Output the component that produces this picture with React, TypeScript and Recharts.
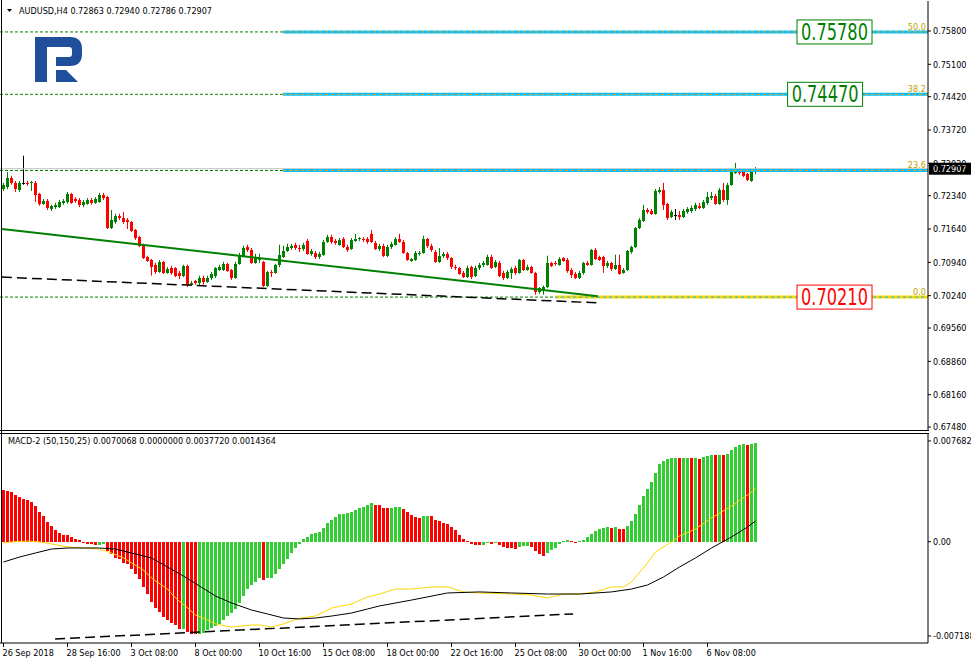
import React from "react";
import { ComposedChart, Bar, Line, XAxis, YAxis, ReferenceLine, ReferenceDot } from "recharts";

const FONT = "'DejaVu Sans Condensed', 'DejaVu Sans', sans-serif";

// AUDUSD H4 candles, 26 Sep 2018 .. 8 Nov 2018
const opens = [
  0.7248, 0.7252, 0.7271, 0.7261, 0.7246, 0.7261, 0.7261, 0.7261, 0.7261, 0.7238,
  0.7217, 0.7223, 0.7206, 0.721, 0.721, 0.7219, 0.7221, 0.7238, 0.7227, 0.7225,
  0.7215, 0.7217, 0.7225, 0.7219, 0.7221, 0.7236, 0.7231, 0.7166, 0.7179, 0.7192,
  0.7187, 0.7183, 0.7179, 0.7162, 0.7147, 0.7131, 0.7105, 0.7099, 0.7089, 0.7074,
  0.7095, 0.7072, 0.7082, 0.7082, 0.7072, 0.7066, 0.7087, 0.7047, 0.7055, 0.7051,
  0.7061, 0.7053, 0.7061, 0.7066, 0.7078, 0.7078, 0.7091, 0.7078, 0.7061, 0.7091,
  0.7108, 0.7126, 0.712, 0.7093, 0.7099, 0.7095, 0.7045, 0.7074, 0.7072, 0.7089,
  0.7105, 0.7118, 0.7124, 0.7131, 0.7124, 0.7122, 0.7139, 0.7112, 0.7114, 0.7105,
  0.711, 0.7137, 0.7147, 0.7139, 0.7131, 0.7143, 0.7126, 0.7122, 0.7139, 0.7143,
  0.7143, 0.7143, 0.7154, 0.7135, 0.7122, 0.7129, 0.7108, 0.7126, 0.7131, 0.7143,
  0.7137, 0.7114, 0.7097, 0.7099, 0.7112, 0.7114, 0.7143, 0.7129, 0.7116, 0.7095,
  0.7108, 0.7112, 0.7103, 0.7084, 0.7082, 0.7072, 0.7063, 0.7084, 0.7066, 0.7082,
  0.7089, 0.7089, 0.7105, 0.7084, 0.7093, 0.7072, 0.7061, 0.7072, 0.7082, 0.7072,
  0.7099, 0.7078, 0.7084, 0.7072, 0.7032, 0.7036, 0.7042, 0.7093, 0.7093, 0.7089,
  0.7103, 0.7099, 0.7078, 0.707, 0.7061, 0.7072, 0.7093, 0.7089, 0.712, 0.7105,
  0.7105, 0.7087, 0.7093, 0.708, 0.7089, 0.7072, 0.7078, 0.7116, 0.7126, 0.7166,
  0.7181, 0.7204, 0.7202, 0.7196, 0.7242, 0.7246, 0.7217, 0.7189, 0.7194, 0.7194,
  0.7189, 0.72, 0.7202, 0.7206, 0.7213, 0.7208, 0.7219, 0.7229, 0.7234, 0.7217,
  0.7246, 0.7225, 0.7257, 0.7282, 0.7288, 0.7286, 0.728, 0.7265, 0.72863,
];
const closes = [
  0.7257, 0.7271, 0.7261, 0.7248, 0.7261, 0.7261, 0.7259, 0.7263, 0.7236, 0.7217,
  0.7223, 0.7208, 0.7213, 0.7215, 0.7221, 0.7223, 0.7238, 0.7219, 0.7223, 0.7215,
  0.7221, 0.7225, 0.7219, 0.7227, 0.7236, 0.7229, 0.7166, 0.7183, 0.7192, 0.7187,
  0.7179, 0.7179, 0.716, 0.7145, 0.7129, 0.7103, 0.7097, 0.7084, 0.7074, 0.7095,
  0.7072, 0.708, 0.7072, 0.7066, 0.7066, 0.7087, 0.7047, 0.7051, 0.7051, 0.7061,
  0.7053, 0.7061, 0.707, 0.7082, 0.7084, 0.7091, 0.7076, 0.7061, 0.7091, 0.711,
  0.7124, 0.712, 0.7093, 0.7105, 0.7103, 0.7045, 0.7074, 0.7072, 0.7089, 0.711,
  0.7118, 0.7126, 0.7129, 0.7124, 0.7122, 0.7131, 0.7112, 0.7118, 0.7105, 0.7112,
  0.7137, 0.7147, 0.7137, 0.7135, 0.7141, 0.7126, 0.712, 0.7141, 0.7143, 0.7145,
  0.7141, 0.7137, 0.7137, 0.7122, 0.7129, 0.7108, 0.7126, 0.7133, 0.7143, 0.7137,
  0.7114, 0.7099, 0.7101, 0.7114, 0.7114, 0.7143, 0.7129, 0.712, 0.7095, 0.7108,
  0.7112, 0.7103, 0.7084, 0.7082, 0.707, 0.7063, 0.7082, 0.7063, 0.7082, 0.7089,
  0.7093, 0.7105, 0.7082, 0.7095, 0.7066, 0.7061, 0.7074, 0.708, 0.7072, 0.7099,
  0.7078, 0.7084, 0.7072, 0.7032, 0.704, 0.7042, 0.7093, 0.7087, 0.7091, 0.7101,
  0.7097, 0.7076, 0.7068, 0.7061, 0.7072, 0.7093, 0.7089, 0.712, 0.7101, 0.7099,
  0.7087, 0.7093, 0.708, 0.7089, 0.707, 0.7078, 0.7118, 0.7126, 0.7166, 0.7183,
  0.7204, 0.72, 0.7196, 0.7244, 0.7246, 0.7215, 0.7187, 0.72, 0.7194, 0.7189,
  0.7202, 0.7206, 0.7208, 0.7215, 0.7208, 0.7221, 0.7231, 0.7234, 0.7217, 0.7246,
  0.7225, 0.7257, 0.7286, 0.729, 0.7282, 0.7276, 0.7267, 0.7288, 0.72907,
];
const highs = [
  0.7261, 0.7284, 0.7276, 0.7265, 0.7265, 0.7318, 0.7265, 0.7265, 0.7265, 0.724,
  0.7227, 0.7227, 0.7215, 0.7219, 0.7225, 0.7227, 0.7242, 0.724, 0.7231, 0.7229,
  0.7225, 0.7229, 0.7229, 0.7231, 0.724, 0.724, 0.7234, 0.7204, 0.7196, 0.7196,
  0.72, 0.7187, 0.7181, 0.7164, 0.715, 0.7133, 0.7108, 0.7101, 0.7093, 0.7099,
  0.7097, 0.7084, 0.7087, 0.7084, 0.7076, 0.7089, 0.7089, 0.7055, 0.7057, 0.7066,
  0.7066, 0.7066, 0.7074, 0.7084, 0.7089, 0.7095, 0.7093, 0.708, 0.7095, 0.7114,
  0.7129, 0.7131, 0.7124, 0.7112, 0.7112, 0.7097, 0.7076, 0.7078, 0.7091, 0.7131,
  0.7129, 0.7133, 0.7133, 0.7135, 0.7131, 0.7135, 0.7143, 0.7122, 0.7118, 0.7116,
  0.7141, 0.7152, 0.7152, 0.7143, 0.7145, 0.7147, 0.7131, 0.7145, 0.7154, 0.7147,
  0.7147, 0.7147, 0.7162, 0.7139, 0.7133, 0.7133, 0.7131, 0.7137, 0.7147, 0.7154,
  0.7141, 0.7116, 0.7103, 0.7118, 0.7118, 0.715, 0.7145, 0.7133, 0.712, 0.7124,
  0.7116, 0.7116, 0.7105, 0.7089, 0.7084, 0.7076, 0.7087, 0.7087, 0.7087, 0.7093,
  0.7097, 0.711, 0.711, 0.7099, 0.7097, 0.7076, 0.7078, 0.7084, 0.7087, 0.7101,
  0.7101, 0.7089, 0.7087, 0.7074, 0.7042, 0.7045, 0.7108, 0.7095, 0.7097, 0.7105,
  0.7105, 0.7103, 0.7082, 0.7074, 0.7076, 0.7095, 0.7097, 0.7122, 0.7124, 0.7108,
  0.7108, 0.7097, 0.7095, 0.711, 0.711, 0.7082, 0.712, 0.7129, 0.7168, 0.7187,
  0.7215, 0.7208, 0.7206, 0.7248, 0.7252, 0.7261, 0.7219, 0.7204, 0.7206, 0.7202,
  0.7206, 0.721, 0.7213, 0.7219, 0.7219, 0.7225, 0.7242, 0.7242, 0.7238, 0.725,
  0.7261, 0.7261, 0.7288, 0.7303, 0.7292, 0.729, 0.7282, 0.729, 0.7294,
];
const lows = [
  0.7244, 0.7248, 0.7257, 0.7242, 0.7242, 0.7257, 0.7255, 0.7244, 0.7221, 0.7213,
  0.7215, 0.7204, 0.7202, 0.7206, 0.7208, 0.7215, 0.7217, 0.7217, 0.7219, 0.721,
  0.721, 0.7215, 0.7215, 0.7217, 0.7219, 0.7225, 0.7164, 0.7164, 0.7175, 0.7183,
  0.7175, 0.7164, 0.7158, 0.7141, 0.7126, 0.7101, 0.7095, 0.7066, 0.707, 0.7072,
  0.707, 0.707, 0.7068, 0.7063, 0.7059, 0.7063, 0.7042, 0.7045, 0.7047, 0.7045,
  0.7047, 0.7051, 0.7057, 0.7061, 0.7076, 0.7076, 0.7074, 0.7057, 0.7059, 0.7089,
  0.7105, 0.7116, 0.7091, 0.7091, 0.7093, 0.7042, 0.7042, 0.7063, 0.707, 0.7084,
  0.7103, 0.7116, 0.712, 0.712, 0.7116, 0.7118, 0.711, 0.7108, 0.7101, 0.7101,
  0.7108, 0.7135, 0.7133, 0.7131, 0.7129, 0.7124, 0.7116, 0.712, 0.7137, 0.7139,
  0.7137, 0.7133, 0.7135, 0.712, 0.7118, 0.7105, 0.7105, 0.7122, 0.7129, 0.7135,
  0.7112, 0.7097, 0.7095, 0.7097, 0.7108, 0.7112, 0.7124, 0.7116, 0.7093, 0.7093,
  0.7103, 0.7099, 0.708, 0.7078, 0.7068, 0.7061, 0.7061, 0.7059, 0.7063, 0.7078,
  0.7084, 0.7087, 0.708, 0.7082, 0.7063, 0.7057, 0.7059, 0.7059, 0.7068, 0.707,
  0.7076, 0.7076, 0.707, 0.7026, 0.7028, 0.7026, 0.704, 0.7084, 0.7087, 0.7087,
  0.7095, 0.7072, 0.7061, 0.7059, 0.7059, 0.7068, 0.7087, 0.7087, 0.7099, 0.7097,
  0.7072, 0.7082, 0.7076, 0.7078, 0.7068, 0.707, 0.7076, 0.7112, 0.7124, 0.7164,
  0.7179, 0.7196, 0.7194, 0.7194, 0.7238, 0.7204, 0.7183, 0.7187, 0.7183, 0.7183,
  0.7187, 0.7196, 0.7198, 0.7202, 0.7206, 0.7206, 0.7215, 0.7225, 0.7215, 0.7215,
  0.7221, 0.7215, 0.7255, 0.728, 0.7278, 0.7273, 0.7265, 0.7263, 0.7279,
];

const priceTicks = [0.758, 0.751, 0.7442, 0.7372, 0.7302, 0.7234, 0.7164, 0.7094, 0.7024, 0.6956, 0.6886, 0.6816, 0.6748];
const lastPrice = 0.72907;

// fibo levels and the price tags drawn on the chart
const fibNames = ["0.0", "23.6", "38.2", "50.0"];
const fibPrices = [0.7021, 0.7287, 0.7447, 0.7578];
const tagTexts = ["0.75780", "0.74470", "0.70210"];
const tagPrices = [0.7578, 0.7447, 0.7021];

// hand drawn trend lines (bar index, price)
const greenTrend = [{ x: -0.4, y: 0.7164 }, { x: 148.6, y: 0.7023 }];
const dashTrend = [{ x: -0.4, y: 0.7063 }, { x: 148.4, y: 0.7009 }];

// MACD-2 (50,150,25)
const hist = [
  0.003966, 0.003889, 0.003813, 0.003584, 0.003432, 0.003279, 0.003203, 0.00305, 0.002745, 0.002288,
  0.001983, 0.001525, 0.00122, 0.000915, 0.000686, 0.000534, 0.00052, 0.000381, 0.000229, 0.000153,
  -0.00008, -0.00015, -0.0002, -0.00023, -0.00022, -0.00021, -0.000687, -0.000915, -0.00122, -0.001296,
  -0.001601, -0.001678, -0.002059, -0.00244, -0.002822, -0.003432, -0.003966, -0.004576, -0.005033, -0.005338,
  -0.00572, -0.005948, -0.006177, -0.00633, -0.006635, -0.00663, -0.006863, -0.007016, -0.00703, -0.00702,
  -0.00694, -0.006711, -0.006558, -0.006406, -0.006253, -0.005948, -0.005643, -0.005414, -0.005109, -0.004652,
  -0.004118, -0.003584, -0.003279, -0.00305, -0.002745, -0.002898, -0.00275, -0.00274, -0.00244, -0.002059,
  -0.001678, -0.001296, -0.000839, -0.000458, -0.000153, 0.000229, 0.000381, 0.00061, 0.000686, 0.000763,
  0.001068, 0.001449, 0.001678, 0.001907, 0.002135, 0.00214, 0.002212, 0.002288, 0.00244, 0.002593,
  0.002669, 0.002822, 0.002974, 0.002822, 0.00279, 0.002593, 0.00259, 0.002595, 0.002669, 0.002672,
  0.002517, 0.002288, 0.002059, 0.001907, 0.00183, 0.001983, 0.00199, 0.001985, 0.001678, 0.001601,
  0.001449, 0.001373, 0.001144, 0.000915, 0.000534, 0.000229, 0.000076, -0.000153, -0.000229, -0.00024,
  -0.00023, -0.000076, -0.000153, -0.00008, -0.000229, -0.000381, -0.000458, -0.000465, -0.000534, -0.000381,
  -0.000305, -0.0003, -0.000381, -0.000686, -0.000915, -0.001068, -0.000839, -0.00061, -0.000458, -0.000153,
  0.000076, 0.000153, 0.000076, -0.000076, 0.000076, 0.000153, 0.000381, 0.00061, 0.000839, 0.000991,
  0.001068, 0.001144, 0.001068, 0.001144, 0.000991, 0.000985, 0.00122, 0.001601, 0.002135, 0.002822,
  0.003508, 0.004042, 0.004576, 0.005262, 0.005948, 0.006177, 0.00633, 0.006406, 0.00641, 0.0064,
  0.006405, 0.00641, 0.006402, 0.006412, 0.00633, 0.006482, 0.006558, 0.006635, 0.00662, 0.00663,
  0.006625, 0.006711, 0.007016, 0.007245, 0.007397, 0.007474, 0.007397, 0.007474, 0.00755,
];
const blackAt = [0, 4, 8, 12, 16, 20, 24, 28, 32, 37, 41, 45, 49, 53, 57, 62, 66, 70, 74, 78, 82, 87, 91, 94, 102, 111, 119, 127, 136, 144, 152, 157, 161, 165, 169, 173, 177, 182, 186, 188];
const black = [
  -0.00155, -0.00117, -0.00086, -0.00056, -0.00048, -0.00048, -0.00048, -0.00056, -0.00086, -0.00124,
  -0.00193, -0.00262, -0.00338, -0.00414, -0.00467, -0.00521, -0.00551, -0.00582, -0.00589, -0.00582,
  -0.00567, -0.00544, -0.00513, -0.0049, -0.00445, -0.00391, -0.00383, -0.00391, -0.00399, -0.00399,
  -0.00383, -0.00361, -0.0033, -0.00269, -0.00193, -0.00124, -0.00048, 0.00036, 0.00112, 0.00158,
];
const yellowAt = [0, 2, 6, 9, 12, 16, 20, 24, 27, 30, 32, 35, 37, 41, 43, 46, 48, 51, 53, 57, 62, 64, 67, 70, 74, 78, 82, 87, 91, 94, 98, 102, 107, 111, 115, 119, 127, 132, 136, 140, 144, 148, 152, 155, 157, 161, 163, 167, 169, 173, 177, 182, 186, 188];
const yellow = [
  -0.0001, -0.00002, 0.00005, -0.00002, -0.00017, -0.0004, -0.00048, -0.00056, -0.00086, -0.00124,
  -0.00162, -0.00216, -0.00277, -0.00361, -0.00429, -0.00505, -0.00559, -0.00597, -0.00627, -0.00651,
  -0.00635, -0.00635, -0.00651, -0.00627, -0.00582, -0.00567, -0.00506, -0.00475, -0.00422, -0.00399,
  -0.00361, -0.00361, -0.00345, -0.00345, -0.00383, -0.00391, -0.00399, -0.00406, -0.00429, -0.00399,
  -0.00399, -0.00383, -0.00345, -0.00345, -0.00307, -0.00162, -0.00078, -0.00002, 0.00043, 0.00097,
  0.00181, 0.00272, 0.00356, 0.00402,
];
const macdTicks = [0.0076828, 0, -0.0071885];
const macdTrend = [{ x: 12.9, y: -0.00742 }, { x: 142.4, y: -0.00551 }];

const dateTickAt = [0, 16, 32, 48, 64, 80, 96, 112, 128, 144, 160, 176];
const dateLabels = [
  "26 Sep 2018", "28 Sep 16:00", "3 Oct 08:00", "8 Oct 00:00", "10 Oct 16:00", "15 Oct 08:00",
  "18 Oct 00:00", "22 Oct 16:00", "25 Oct 08:00", "30 Oct 00:00", "1 Nov 16:00", "6 Nov 08:00",
];

const X_DOMAIN: [number, number] = [-0.875, 231.125];

const candleRows = opens.map((o, i) => ({
  i,
  o,
  c: closes[i],
  h: highs[i],
  l: lows[i],
  range: [lows[i], highs[i]],
}));

const macdRows = hist.map((v, i) => {
  const bi = blackAt.indexOf(i);
  const yi = yellowAt.indexOf(i);
  return {
    i,
    hist: v,
    black: bi >= 0 ? black[bi] : null,
    yellow: yi >= 0 ? yellow[yi] : null,
  };
});

const Candle = (props: any) => {
  const { x, y, width, height, payload } = props;
  if (!payload || height == null || isNaN(y)) return null;
  const { o, c, h, l } = payload;
  const cx = Math.floor(x + width / 2);
  const k = h > l ? height / (h - l) : 0;
  const yo = y + (h - o) * k;
  const yc = y + (h - c) * k;
  const top = Math.round(Math.min(yo, yc));
  const bot = Math.round(Math.max(yo, yc));
  const color = c > o ? "#008000" : c < o ? "#ff0000" : "#000000";
  return (
    <g>
      <line x1={cx + 0.5} x2={cx + 0.5} y1={y} y2={y + height} stroke={color} strokeWidth={1} />
      <rect x={cx - 1} y={top} width={3} height={Math.max(1, bot - top)} fill={color} />
    </g>
  );
};

const HistBar = (props: any) => {
  const { x, y, width, height, payload } = props;
  if (!payload || height == null) return null;
  const i = payload.i;
  const up = i > 0 && hist[i] >= hist[i - 1];
  const cx = Math.floor(x + width / 2);
  const a = Math.round(Math.min(y, y + height));
  const b = Math.round(Math.max(y, y + height));
  return <rect x={cx - 1} y={a} width={3} height={Math.max(1, b - a)} fill={up ? "#32cd32" : "#ff0000"} />;
};

const Tag = ({ cx, cy, text, color }: any) => (
  <g>
    <rect x={cx - 37.5} y={cy - 12} width={75} height={24} fill="#ffffff" stroke={color} strokeWidth={1} />
    <text
      x={cx}
      y={cy}
      textAnchor="middle"
      dominantBaseline="central"
      fontSize={18}
      fontFamily={FONT}
      fill={color}
      transform={`translate(0 ${cy}) scale(1 1.3) translate(0 ${-cy})`}
    >
      {text}
    </text>
  </g>
);

const DateTick = (props: any) => {
  const { x, y, payload } = props;
  const k = dateTickAt.indexOf(payload.value);
  return (
    <text x={x - 1} y={y + 8} fontSize={9} fontFamily={FONT} fill="#000" textAnchor="start">
      {dateLabels[k]}
    </text>
  );
};

export default function App() {
  const tagColors = ["#008000", "#008000", "#ff0000"];
  const tagAt = [207.75, 205.4, 207.75];
  const fibFrom = [137.9, 69.9, 69.9, 69.9];
  return (
    <div style={{ position: "relative", width: 971, height: 664, background: "#fff", overflow: "hidden" }}>
      <style>{`body{margin:0}`}</style>
      <div style={{ position: "absolute", left: 0, top: 0 }}>
        <ComposedChart width={971} height={431} data={candleRows} margin={{ top: 1, right: 0, bottom: 1, left: 0 }}>
          <XAxis type="number" dataKey="i" domain={X_DOMAIN} hide allowDataOverflow />
          <YAxis
            orientation="right"
            type="number"
            domain={[0.67418, 0.7643]}
            ticks={priceTicks}
            interval={0}
            width={43}
            allowDataOverflow
            tickSize={3}
            tickMargin={2}
            axisLine={{ stroke: "#000" }}
            tickLine={{ stroke: "#000" }}
            tick={{ fontSize: 9, fontFamily: FONT, fill: "#000" }}
            tickFormatter={(v: number) => v.toFixed(5)}
          />
          {fibPrices.map((p, k) => (
            <ReferenceLine key={`g${k}`} y={p} stroke="#008000" strokeDasharray="3 2" />
          ))}
          <ReferenceLine y={lastPrice} stroke="#c0c0c0" />
          {fibPrices.map((p, k) => (
            <ReferenceLine
              key={`c${k}`}
              segment={[{ x: fibFrom[k], y: p }, { x: X_DOMAIN[1], y: p }]}
              stroke={k === 0 ? "#ffd700" : "#00bfff"}
              strokeWidth={3}
            />
          ))}
          {fibPrices.map((p, k) => (
            <ReferenceLine
              key={`d${k}`}
              segment={[{ x: fibFrom[k], y: p }, { x: X_DOMAIN[1], y: p }]}
              stroke={k === 0 ? "#00bfff" : "#ffa500"}
              strokeDasharray="3 3"
            />
          ))}
          <ReferenceLine segment={greenTrend} stroke="#008000" strokeWidth={2} />
          <ReferenceLine segment={dashTrend} stroke="#000" strokeWidth={1.5} strokeDasharray="10 5" />
          <Bar dataKey="range" barSize={3} shape={Candle} isAnimationActive={false} />
          {fibPrices.map((p, k) => (
            <ReferenceDot
              key={`t${k}`}
              x={230.6}
              y={p}
              r={0}
              shape={(sp: any) => (
                <text x={sp.cx} y={sp.cy - 2} textAnchor="end" fontSize={9} fontFamily={FONT} fill="#c0a000">
                  {fibNames[k]}
                </text>
              )}
            />
          ))}
          {tagPrices.map((p, k) => (
            <ReferenceDot
              key={`p${k}`}
              x={tagAt[k]}
              y={p}
              r={0}
              shape={(sp: any) => <Tag cx={sp.cx} cy={sp.cy} text={tagTexts[k]} color={tagColors[k]} />}
            />
          ))}
          <ReferenceDot
            x={X_DOMAIN[1]}
            y={lastPrice}
            r={0}
            shape={(sp: any) => (
              <g>
                <rect x={sp.cx + 1} y={sp.cy - 6} width={43} height={12} fill="#000" />
                <text x={sp.cx + 5} y={sp.cy + 3.5} fontSize={9} fontFamily={FONT} fill="#fff">
                  {lastPrice.toFixed(5)}
                </text>
              </g>
            )}
          />
        </ComposedChart>
      </div>
      <div style={{ position: "absolute", left: 0, top: 432 }}>
        <ComposedChart width={971} height={231} data={macdRows} margin={{ top: 2, right: 0, bottom: 0, left: 0 }}>
          <XAxis
            type="number"
            dataKey="i"
            domain={X_DOMAIN}
            allowDataOverflow
            ticks={dateTickAt}
            interval={0}
            height={20}
            tickSize={4}
            tickMargin={1}
            axisLine={{ stroke: "#000" }}
            tickLine={{ stroke: "#000" }}
            tick={<DateTick />}
          />
          <YAxis
            orientation="right"
            type="number"
            domain={[-0.007725, 0.008213]}
            ticks={macdTicks}
            interval={0}
            width={43}
            allowDataOverflow
            tickSize={3}
            tickMargin={2}
            axisLine={{ stroke: "#000" }}
            tickLine={{ stroke: "#000" }}
            tick={{ fontSize: 9, fontFamily: FONT, fill: "#000" }}
            tickFormatter={(v: number) => (v === 0 ? "0.00" : v.toFixed(7))}
          />
          <Bar dataKey="hist" barSize={3} shape={HistBar} isAnimationActive={false} />
          <Line dataKey="yellow" type="linear" stroke="#ffd700" strokeWidth={1} dot={false} connectNulls isAnimationActive={false} />
          <Line dataKey="black" type="linear" stroke="#000" strokeWidth={1} dot={false} connectNulls isAnimationActive={false} />
          <ReferenceLine segment={macdTrend} stroke="#000" strokeWidth={1.5} strokeDasharray="10 5" />
        </ComposedChart>
      </div>
      <svg width={971} height={664} style={{ position: "absolute", left: 0, top: 0, pointerEvents: "none" }}>
        <rect x={1} y={0} width={1} height={643} fill="#000" />
        <rect x={0} y={430} width={929} height={1} fill="#000" />
        <rect x={0} y={433} width={929} height={1} fill="#000" />
        <polygon points="7,9 12,9 9.5,12" fill="#000" />
        <text x={19} y={14} fontSize={9} fontFamily={FONT} fill="#000">
          AUDUSD,H4  0.72863 0.72940 0.72786 0.72907
        </text>
        <text x={8} y={444} fontSize={9} fontFamily={FONT} fill="#000">
          MACD-2 (50,150,25) 0.0070068 0.0000000 0.0037720 0.0014364
        </text>
        <g fill="#1f4f9a">
          <path d="M35,37 H70 Q82,37 82,49 V54 Q82,66 70,66 H56 V57 H69 Q72,57 72,54 V50 Q72,47 69,47 H47 V82 H35 Z" />
          <path d="M56,70 H66 L78,82 H56 Z" />
        </g>
      </svg>
    </div>
  );
}
